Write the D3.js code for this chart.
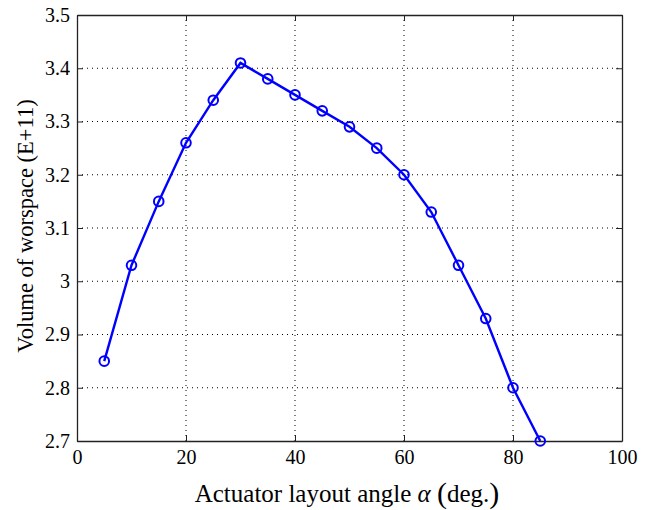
<!DOCTYPE html>
<html>
<head>
<meta charset="utf-8">
<script src="https://cdn.jsdelivr.net/npm/d3@7"></script>
<style>
  body { margin: 0; background: #fff; }
</style>
</head>
<body>
<div id="chart"></div>
<script>
// angle (deg) vs volume of workspace (E+11)
const angles = [5, 10, 15, 20, 25, 30, 35, 40, 45, 50, 55, 60, 65, 70, 75, 80, 85];
const volumes = [2.85, 3.03, 3.15, 3.26, 3.34, 3.41, 3.38, 3.35, 3.32, 3.29, 3.25, 3.20, 3.13, 3.03, 2.93, 2.80, 2.70];
const xTicks = [0, 20, 40, 60, 80, 100];
const yTicks = [2.7, 2.8, 2.9, 3, 3.1, 3.2, 3.3, 3.4, 3.5];

const serif = "Liberation Serif, DejaVu Serif, Times New Roman, serif";
const width = 651, height = 510;
const margin = {top: 15, right: 29, bottom: 69, left: 77};
const w = width - margin.left - margin.right;
const h = height - margin.top - margin.bottom;

const svg = d3.select("#chart").append("svg")
    .attr("width", width)
    .attr("height", height)
    .style("font-family", serif);

const g = svg.append("g")
    .attr("transform", `translate(${margin.left},${margin.top})`);

const x = d3.scaleLinear().domain([0, 100]).range([0, w]);
const y = d3.scaleLinear().domain([2.7, 3.5]).range([h, 0]);

// dotted grid
g.selectAll(".gx").data(xTicks.slice(1, -1)).join("line")
    .attr("x1", d => x(d)).attr("x2", d => x(d))
    .attr("y1", 0).attr("y2", h)
    .attr("stroke", "#000").attr("stroke-width", 1)
    .attr("stroke-dasharray", "1,4");
g.selectAll(".gy").data(yTicks.slice(1, -1)).join("line")
    .attr("x1", 0).attr("x2", w)
    .attr("y1", d => y(d)).attr("y2", d => y(d))
    .attr("stroke", "#000").attr("stroke-width", 1)
    .attr("stroke-dasharray", "1,4");

// axes, ticks pointing inward
const fmt = d => String(d);
const xAxis = g.append("g").attr("transform", `translate(0,${h})`)
    .call(d3.axisBottom(x).tickValues(xTicks).tickFormat(fmt).tickSizeInner(-6).tickSizeOuter(0).tickPadding(9));
const xAxisTop = g.append("g")
    .call(d3.axisTop(x).tickValues(xTicks).tickFormat("").tickSizeInner(-6).tickSizeOuter(0));
const yAxis = g.append("g")
    .call(d3.axisLeft(y).tickValues(yTicks).tickFormat(fmt).tickSizeInner(-6).tickSizeOuter(0).tickPadding(7));
const yAxisRight = g.append("g").attr("transform", `translate(${w},0)`)
    .call(d3.axisRight(y).tickValues(yTicks).tickFormat("").tickSizeInner(-6).tickSizeOuter(0));

[xAxis, xAxisTop, yAxis, yAxisRight].forEach(a => {
    a.attr("font-family", null).attr("font-size", 20);
    a.select(".domain").attr("stroke", "#222").attr("stroke-width", 1.3);
    a.selectAll(".tick line").attr("stroke", "#222").attr("stroke-width", 1);
    a.selectAll("text").attr("fill", "#000").style("font-family", serif);
});
xAxis.selectAll("text").attr("dy", "0.72em");

// line + markers
const line = d3.line().x((d, i) => x(angles[i])).y(d => y(d));
g.append("path")
    .datum(volumes)
    .attr("fill", "none")
    .attr("stroke", "#0000ff")
    .attr("stroke-width", 2.4)
    .attr("d", line);

g.selectAll(".pt").data(volumes).join("circle")
    .attr("cx", (d, i) => x(angles[i]))
    .attr("cy", d => y(d))
    .attr("r", 4.8)
    .attr("fill", "none")
    .attr("stroke", "#0000ff")
    .attr("stroke-width", 2);

// axis labels
const xl = svg.append("text")
    .attr("x", 347)
    .attr("y", 502)
    .attr("text-anchor", "middle")
    .style("font-family", serif)
    .attr("font-size", 25);
xl.append("tspan").text("Actuator layout angle ");
xl.append("tspan").attr("font-style", "italic").text("α");
xl.append("tspan").text("  ");
xl.append("tspan").attr("font-size", 30).attr("dy", 1).text("(");
xl.append("tspan").attr("dy", -1).text("deg.");
xl.append("tspan").attr("font-size", 30).attr("dy", 1).text(")");

svg.append("text")
    .attr("transform", `translate(33,${226}) rotate(-90)`)
    .attr("text-anchor", "middle")
    .style("font-family", serif)
    .attr("font-size", 22.5)
    .text("Volume of worspace (E+11)");
</script>
</body>
</html>
